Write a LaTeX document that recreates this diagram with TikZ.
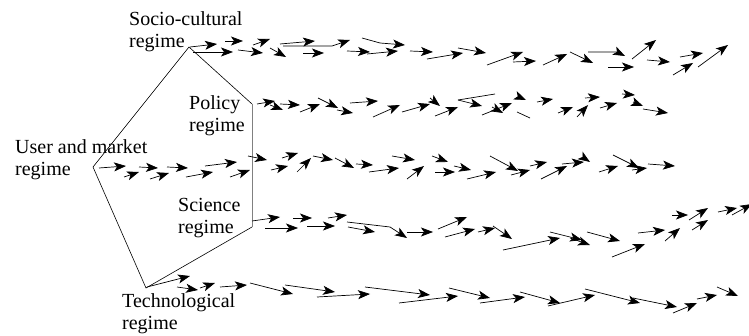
\documentclass[tikz,border=0pt]{standalone}
\usepackage{fontspec}
\setmainfont{Liberation Serif}
\usetikzlibrary{arrows.meta,positioning}
\tikzset{
	x=1pt,y=-1pt,
	regime/.style={inner sep=0pt, anchor=north west, align=left, font=\fontsize{20}{22}\selectfont},
	flow/.style={-{Stealth[length=12pt,width=9pt,inset=3pt]}, line width=0.7pt},
	trail/.style={line width=0.7pt},
	edge/.style={line width=0.6pt}
}

\begin{document}
\begin{tikzpicture}
	\useasboundingbox (0,0) rectangle (749,336);
	% regimes
	\node[regime] (soc) at (129,11) {Socio-cultural\\regime};
	\node[regime] (pol) at (189,95) {Policy\\regime};
	\node[regime] (usr) at (15,139) {User and market\\regime};
	\node[regime] (sci) at (178,198) {Science\\regime};
	\node[regime] (tec) at (122,293) {Technological\\regime};
	
	\coordinate (1) at (189,47);
	\coordinate (2) at (252,104);
	\coordinate (3) at (252,227);
	\coordinate (4) at (146,288);
	\coordinate (5) at (93,167);
	\draw[edge] (3) -- (4) -- (5) -- (1) -- (2);
	\draw[edge,gray] (2) -- (3);
	
	% socio-cultural trajectory
	\foreach \a/\b/\c/\d in {190/47/217/44, 193/52/233/52, 225/41/243/41, 238/50/263/53,
		253/45/270/39, 270/48/286/57, 280/44/315/41, 303/53/324/53, 347/51/370/52,
		367/54/398/51, 410/51/433/52, 427/59/463/53, 458/48/486/53, 487/65/523/52,
		513/62/536/61, 543/65/567/54, 570/52/593/63, 608/67/634/67, 632/59/656/40,
		647/60/670/62, 673/75/693/63, 680/57/703/53, 698/67/728/45}
		\draw[flow] (\a,\b) -- (\c,\d);
	\draw[flow] (283,46) -- (332,46) -- (350,40);
	\draw[flow] (362,38) -- (380,43) -- (405,45);
	\draw[flow] (588,52) -- (617,52) -- (625,56);
	
	% policy trajectory
	\foreach \a/\b/\c/\d in {257/104/275/101, 270/105/283/110, 280/104/300/105, 300/112/320/104,
		318/98/338/108, 337/110/353/113, 350/103/378/101, 373/117/400/105, 402/112/430/104,
		430/98/440/106, 435/116/458/107, 458/100/482/106, 482/115/512/103, 492/107/503/113,
		519/97/526/100, 537/102/553/99, 558/113/573/107, 577/117/588/105, 585/98/600/97,
		600/108/617/103, 622/94/635/95, 633/102/643/106, 643/109/668/113}
		\draw[flow] (\a,\b) -- (\c,\d);
	\draw[trail] (458,100) -- (495,94);
	\draw[trail] (517,112) -- (530,118);
	
	% user and market trajectory
	\foreach \a/\b/\c/\d in {99/168/126/166, 124/177/139/172, 139/167/158/168, 150/179/169/173,
		167/167/188/168, 186/177/213/172, 205/166/237/162, 230/177/250/170, 248/156/267/160,
		271/170/288/166, 282/158/298/153, 297/172/311/158, 313/156/333/160, 335/158/354/168,
		356/164/373/165, 369/172/399/168, 392/156/415/160, 407/179/424/166, 432/156/448/162,
		435/172/455/172, 454/166/471/170, 467/179/496/172, 490/156/518/171, 511/175/530/170,
		530/166/547/162, 541/179/567/166, 562/164/584/162, 584/158/590/162, 599/172/618/166,
		613/155/639/168, 632/170/647/168, 648/164/675/166}
		\draw[flow] (\a,\b) -- (\c,\d);
	
	% science trajectory
	\foreach \a/\b/\c/\d in {252/221/280/217, 265/228/298/228, 293/218/312/218, 307/226/335/226,
		328/218/347/215, 348/227/375/232, 407/232/433/232, 438/229/467/217, 445/237/475/229,
		478/232/495/228, 493/226/512/239, 503/250/560/238, 550/232/582/240, 570/238/590/245,
		587/232/620/241, 612/257/645/244, 638/233/665/230, 665/241/680/228, 672/215/688/215,
		689/220/708/208, 692/230/708/220, 718/212/737/208, 732/215/752/204}
		\draw[flow] (\a,\b) -- (\c,\d);
	\draw[flow] (347,222) -- (390,227) -- (407,238);
	
	% technological trajectory
	\foreach \a/\b/\c/\d in {147/287/190/276, 177/287/198/290, 200/288/215/283, 220/287/247/285,
		250/283/293/294, 285/285/335/292, 317/297/370/294, 365/287/430/295, 399/303/458/296,
		449/288/490/298, 480/303/525/297, 520/292/560/303, 548/306/595/295, 585/289/640/303,
		633/298/677/307, 673/313/697/303, 697/299/717/295, 717/287/738/296}
		\draw[flow] (\a,\b) -- (\c,\d);
\end{tikzpicture}
\end{document}
